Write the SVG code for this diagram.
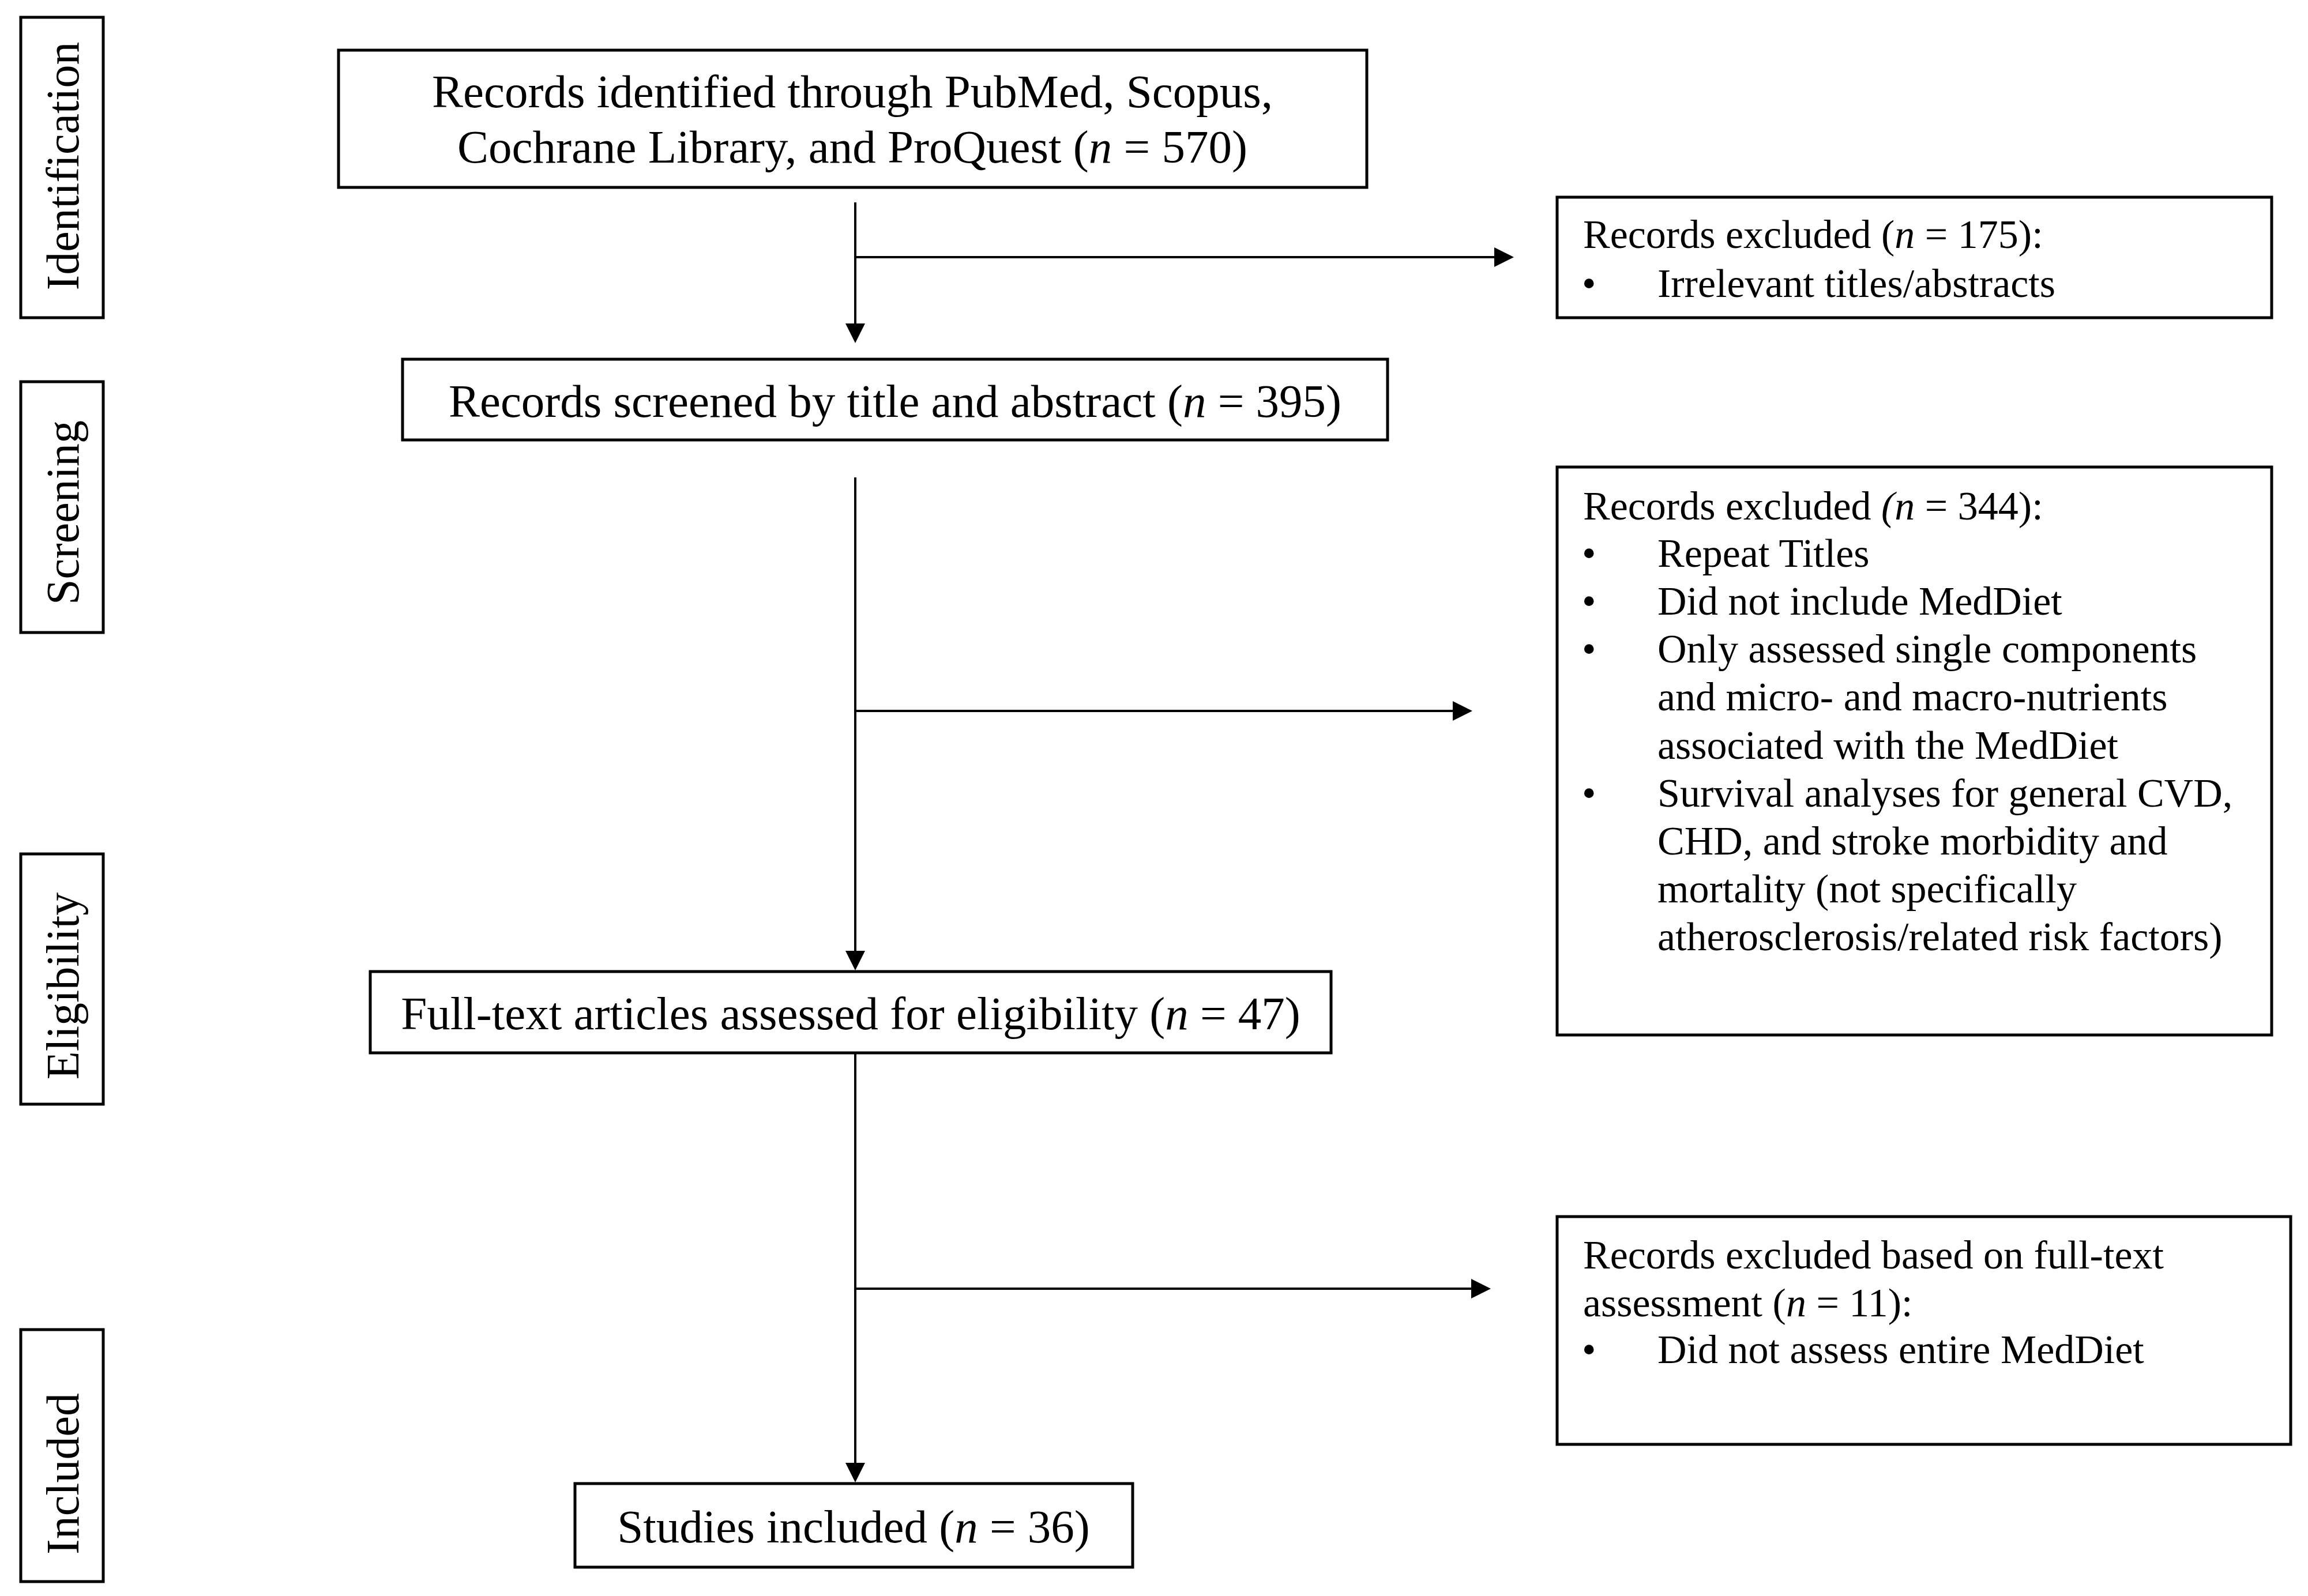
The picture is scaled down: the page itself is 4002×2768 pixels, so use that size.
<svg xmlns="http://www.w3.org/2000/svg" width="4002" height="2768" viewBox="0 0 4002 2768">
<style>
.box{fill:#fff;stroke:#000;stroke-width:5}
.side{fill:#fff;stroke:#000;stroke-width:5}
.main{font-family:"Liberation Serif","Times New Roman",serif;font-size:81px;fill:#000;text-anchor:middle}
.lab{font-family:"Liberation Serif","Times New Roman",serif;font-size:80px;fill:#000;text-anchor:middle}
.ex{font-family:"Liberation Serif","Times New Roman",serif;font-size:70px;fill:#000}
.it{font-style:italic}
.con{fill:none;stroke:#000;stroke-width:4}
</style>
<defs>
<marker id="ah" viewBox="0 0 34 34" refX="14" refY="17" markerWidth="34" markerHeight="34" markerUnits="userSpaceOnUse" orient="auto">
<path d="M0,0 L34,17 L0,34 z" fill="#000"/>
</marker>
</defs>
<rect width="4002" height="2768" fill="#fff"/>

<g id="label-identification">
<rect class="side" x="36" y="30" width="143" height="521"/>
<text class="lab" transform="translate(136,288) rotate(-90)">Identification</text>
</g>
<g id="label-screening">
<rect class="side" x="36" y="662" width="143" height="435"/>
<text class="lab" transform="translate(136,889) rotate(-90)">Screening</text>
</g>
<g id="label-eligibility">
<rect class="side" x="36" y="1481" width="143" height="434"/>
<text class="lab" transform="translate(136,1710) rotate(-90)">Eligibility</text>
</g>
<g id="label-included">
<rect class="side" x="36" y="2306" width="143" height="437"/>
<text class="lab" transform="translate(136,2556) rotate(-90)">Included</text>
</g>

<g id="connectors">
<path class="con" d="M1483,351 V575" marker-end="url(#ah)"/>
<path class="con" d="M1483,446 H2605" marker-end="url(#ah)"/>
<path class="con" d="M1483,828 V1663" marker-end="url(#ah)"/>
<path class="con" d="M1483,1233 H2533" marker-end="url(#ah)"/>
<path class="con" d="M1483,1826 V2551" marker-end="url(#ah)"/>
<path class="con" d="M1483,2235 H2565" marker-end="url(#ah)"/>
</g>

<g id="node-identified">
<rect class="box" x="587" y="87" width="1783" height="238"/>
<text class="main" x="1478" y="186">Records identified through PubMed, Scopus,</text>
<text class="main" x="1478" y="282">Cochrane Library, and ProQuest (<tspan class="it">n</tspan> = 570)</text>
</g>

<g id="node-screened">
<rect class="box" x="698" y="623" width="1708" height="140"/>
<text class="main" x="1552" y="723">Records screened by title and abstract (<tspan class="it">n</tspan> = 395)</text>
</g>

<g id="node-fulltext">
<rect class="box" x="642" y="1685" width="1666" height="141"/>
<text class="main" x="1475" y="1785">Full-text articles assessed for eligibility (<tspan class="it">n</tspan> = 47)</text>
</g>

<g id="node-included">
<rect class="box" x="997" y="2573" width="967" height="145"/>
<text class="main" x="1480" y="2675">Studies included (<tspan class="it">n</tspan> = 36)</text>
</g>

<g id="node-excluded-175">
<rect class="box" x="2700" y="342" width="1239" height="209"/>
<text class="ex" x="2745" y="430">Records excluded (<tspan class="it">n</tspan> = 175):</text>
<text class="ex" x="2743" y="515">•</text>
<text class="ex" x="2874" y="515">Irrelevant titles/abstracts</text>
</g>

<g id="node-excluded-344">
<rect class="box" x="2700" y="810" width="1239" height="985"/>
<text class="ex" x="2745" y="901">Records excluded <tspan class="it">(n</tspan> = 344):</text>
<text class="ex" x="2743" y="983">•</text>
<text class="ex" x="2874" y="983">Repeat Titles</text>
<text class="ex" x="2743" y="1066">•</text>
<text class="ex" x="2874" y="1066">Did not include MedDiet</text>
<text class="ex" x="2743" y="1149">•</text>
<text class="ex" x="2874" y="1149">Only assessed single components</text>
<text class="ex" x="2874" y="1232">and micro- and macro-nutrients</text>
<text class="ex" x="2874" y="1316">associated with the MedDiet</text>
<text class="ex" x="2743" y="1399">•</text>
<text class="ex" x="2874" y="1399">Survival analyses for general CVD,</text>
<text class="ex" x="2874" y="1482">CHD, and stroke morbidity and</text>
<text class="ex" x="2874" y="1565">mortality (not specifically</text>
<text class="ex" x="2874" y="1648">atherosclerosis/related risk factors)</text>
</g>

<g id="node-excluded-11">
<rect class="box" x="2700" y="2110" width="1272" height="395"/>
<text class="ex" x="2745" y="2200">Records excluded based on full-text</text>
<text class="ex" x="2745" y="2283">assessment (<tspan class="it">n</tspan> = 11):</text>
<text class="ex" x="2743" y="2364">•</text>
<text class="ex" x="2874" y="2364">Did not assess entire MedDiet</text>
</g>
</svg>
